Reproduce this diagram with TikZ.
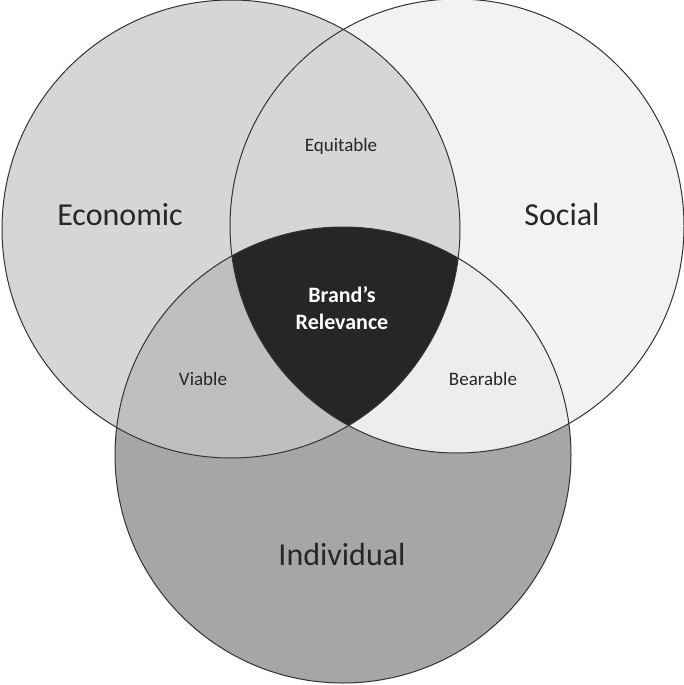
\documentclass[tikz,border=0pt]{standalone}
\usepackage{fontspec}
\setmainfont{Carlito}
\begin{document}
\begin{tikzpicture}[x=1pt,y=-1pt,
  ring/.style={draw=black!80,line width=1pt},
  big/.style={font=\fontsize{32}{36}\selectfont,text=black!85},
  small/.style={font=\fontsize{19}{22}\selectfont,text=black!85}]
\useasboundingbox (0,0) rectangle (684,685);
\def\E{(231,229) circle (229)}
\def\S{(457,226) circle (227)}
\def\I{(343,455) circle (228)}
\fill[black!35] \I;
\fill[black!16] \E;
\fill[black!5] \S;
\begin{scope}\clip \E; \fill[black!25] \I; \end{scope}
\begin{scope}\clip \S; \fill[black!7] \I; \end{scope}
\begin{scope}\clip \E; \fill[black!16] \S; \end{scope}
\begin{scope}\clip \E; \clip \S; \fill[black!85] \I; \end{scope}
\draw[ring] \E; \draw[ring] \S; \draw[ring] \I;
\node[big] (econ) at (120,215) {Economic};
\node[big] (soc) at (562,215) {Social};
\node[big] (ind) at (342,555) {Individual};
\node[small] (eq) at (341,146) {Equitable};
\node[small] (via) at (203,379) {Viable};
\node[small] (bea) at (483,379) {Bearable};
\node[font=\fontsize{22}{27}\selectfont\bfseries,text=white,align=center] (br) at (342,308) {Brand’s\\Relevance};
\end{tikzpicture}
\end{document}
